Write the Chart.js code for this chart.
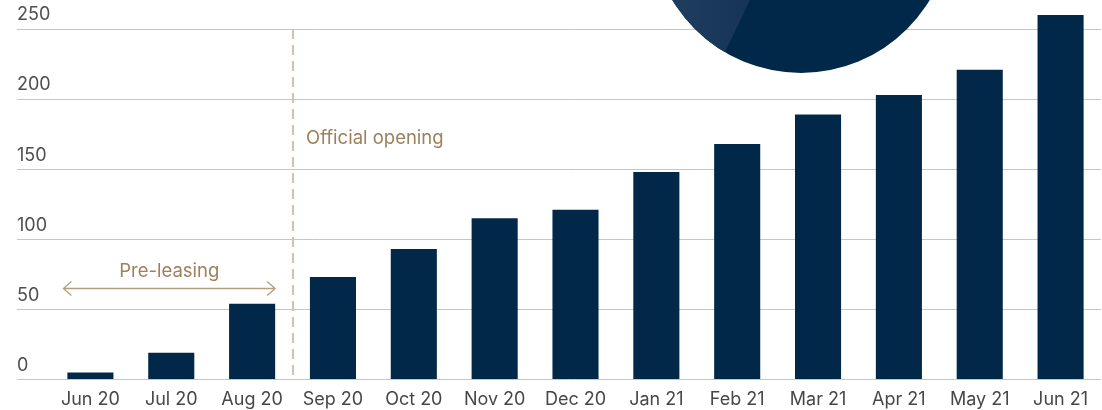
<!DOCTYPE html>
<html>
<head>
<meta charset="utf-8">
<script src="https://cdn.jsdelivr.net/npm/chart.js@4"></script>
<style>
  html, body { margin: 0; padding: 0; background: #fff; }
  #wrap { width: 1102px; height: 410px; }
</style>
</head>
<body>
<div id="wrap"><canvas id="grafLeasing" width="1102" height="410"></canvas></div>
<script>
// Unidades arrendadas por mes
const meses = ['Jun 20', 'Jul 20', 'Aug 20', 'Sep 20', 'Oct 20', 'Nov 20', 'Dec 20',
               'Jan 21', 'Feb 21', 'Mar 21', 'Apr 21', 'May 21', 'Jun 21'];
const unidades = [5, 19, 54, 73, 93, 115, 121, 148, 168, 189, 203, 221, 260];
const marcasY = [0, 50, 100, 150, 200, 250];

const azul = '#012849';
const arena = '#9e805c';
const fuente = 'Inter, "Noto Sans", sans-serif';

// circulo decorativo, linea de apertura y flecha de pre-arriendo
const adornos = {
  id: 'adornos',
  afterDraw(chart) {
    const ctx = chart.ctx;
    const x = chart.scales.x, y = chart.scales.y;
    const area = chart.chartArea;

    // circulo arriba, cortado por el borde
    const cx = 801, cy = -77, r = 150;
    ctx.save();
    ctx.beginPath();
    ctx.arc(cx, cy, r, 0, Math.PI * 2);
    ctx.fillStyle = azul;
    ctx.fill();
    ctx.clip();
    const g = ctx.createLinearGradient(cx - r, 0, cx - 40, 0);
    g.addColorStop(0, '#223f60');
    g.addColorStop(1, '#143355');
    ctx.fillStyle = g;
    ctx.beginPath();
    ctx.moveTo(750 + 230 * 0.48, -230);
    ctx.lineTo(750 - 200 * 0.48, 200);
    ctx.lineTo(0, 200);
    ctx.lineTo(0, -230);
    ctx.closePath();
    ctx.fill();
    ctx.restore();

    // linea punteada entre Aug 20 y Sep 20
    const xl = Math.round((x.getPixelForValue(2) + x.getPixelForValue(3)) / 2);
    ctx.save();
    ctx.strokeStyle = '#d5c2aa';
    ctx.lineWidth = 2;
    ctx.setLineDash([10, 6]);
    ctx.beginPath();
    ctx.moveTo(xl, area.top);
    ctx.lineTo(xl, area.bottom - 4);
    ctx.stroke();
    ctx.restore();

    ctx.save();
    ctx.fillStyle = arena;
    ctx.font = '18.5px ' + fuente;
    ctx.textBaseline = 'alphabetic';
    ctx.textAlign = 'left';
    ctx.fillText('Official opening', xl + 13, y.getPixelForValue(168));

    // flecha doble de pre-arriendo
    const x0 = x.getPixelForValue(0) - 27;
    const x1 = x.getPixelForValue(2) + 23;
    const ya = Math.round(y.getPixelForValue(65)) + 0.5;
    ctx.strokeStyle = '#b59d80';
    ctx.lineWidth = 1.3;
    ctx.beginPath();
    ctx.moveTo(x0, ya);
    ctx.lineTo(x1, ya);
    ctx.moveTo(x0 + 8, ya - 7);
    ctx.lineTo(x0, ya);
    ctx.lineTo(x0 + 8, ya + 7);
    ctx.moveTo(x1 - 8, ya - 7);
    ctx.lineTo(x1, ya);
    ctx.lineTo(x1 - 8, ya + 7);
    ctx.stroke();
    ctx.textAlign = 'center';
    ctx.fillText('Pre-leasing', (x0 + x1) / 2, y.getPixelForValue(73));
    ctx.restore();
  }
};

new Chart(document.getElementById('grafLeasing'), {
  type: 'bar',
  data: {
    labels: meses,
    datasets: [{
      data: unidades,
      backgroundColor: azul,
      barPercentage: 0.57,
      categoryPercentage: 1,
      clip: false
    }]
  },
  options: {
    responsive: false,
    animation: false,
    layout: { padding: { top: 29, left: 17, right: 1, bottom: -9 } },
    plugins: {
      legend: { display: false },
      tooltip: { enabled: false }
    },
    scales: {
      x: {
        grid: { display: false, drawTicks: false },
        border: { display: false },
        ticks: { color: '#474747', font: { family: fuente, size: 18 }, padding: 9, maxRotation: 0 }
      },
      y: {
        min: 0,
        max: 250,
        afterFit(scale) { scale.width = 33; },
        afterBuildTicks(scale) { scale.ticks = marcasY.map(v => ({ value: v })); },
        border: { display: false },
        grid: { color: '#c6c6c6', lineWidth: 1, tickLength: 33, tickColor: '#c6c6c6' },
        ticks: {
          crossAlign: 'far',
          labelOffset: -14,
          padding: 0,
          color: '#4f4f4f',
          font: { family: fuente, size: 18 }
        }
      }
    }
  },
  plugins: [adornos]
});
</script>
</body>
</html>
